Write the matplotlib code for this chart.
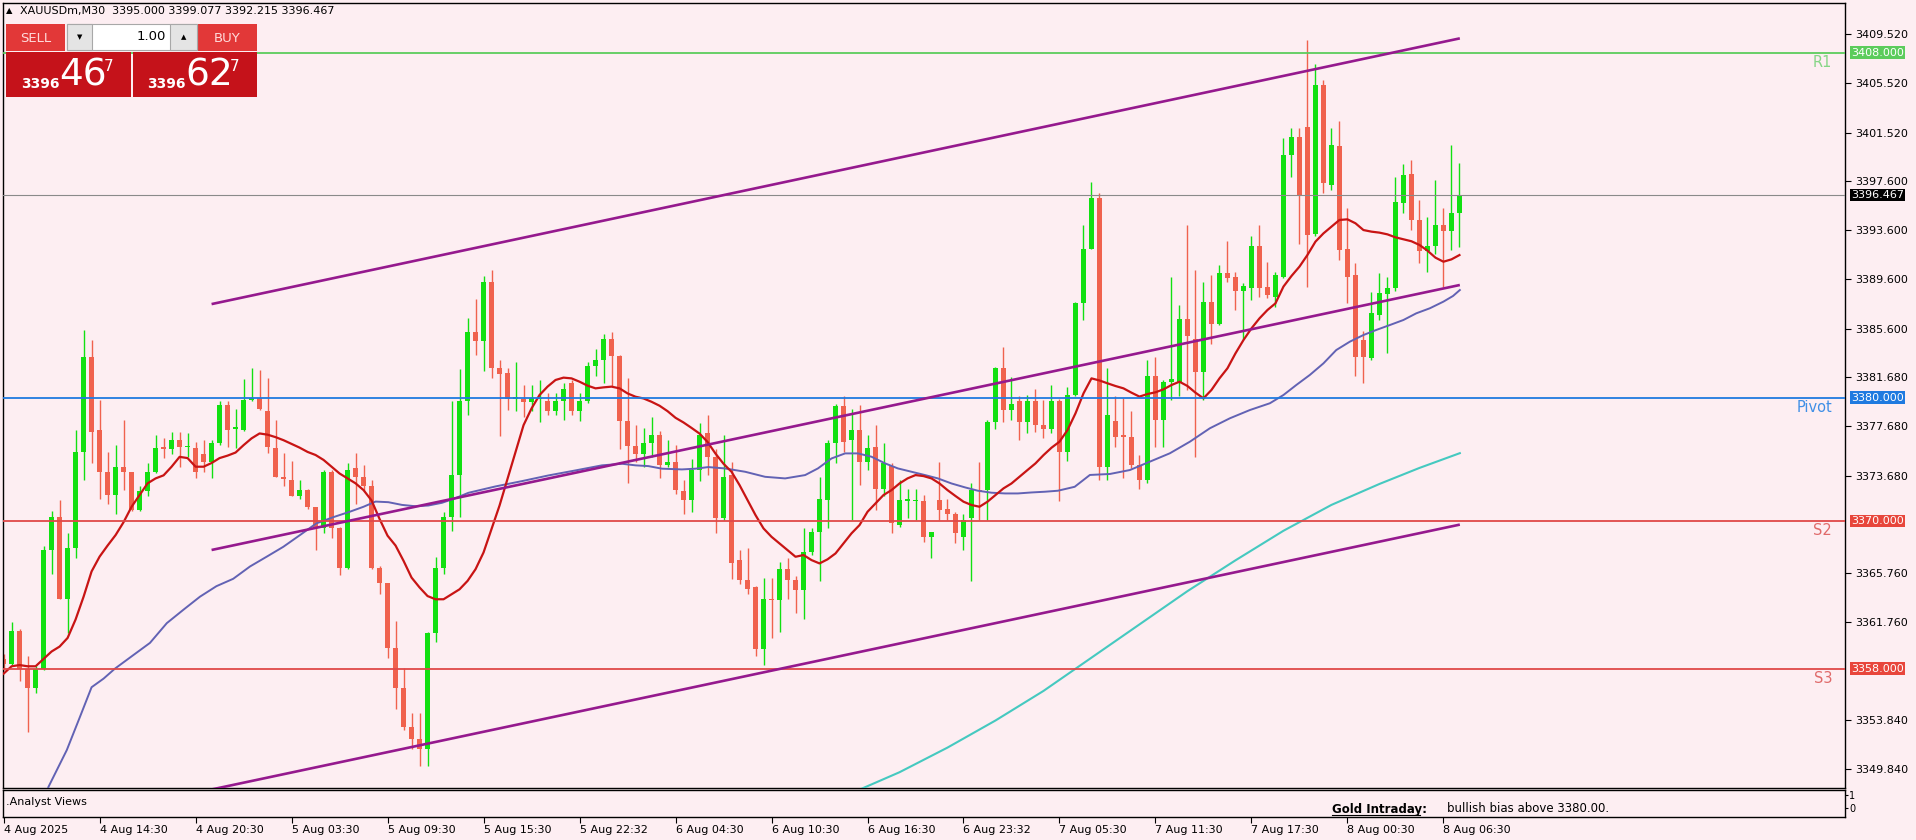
import matplotlib
matplotlib.use("Agg")
import matplotlib.pyplot as plt
from matplotlib.patches import Rectangle
from matplotlib.lines import Line2D
import numpy as np

# ---- data (one value per bar) ----
opens = [
    3358.8, 3358.4, 3361.1, 3358.0, 3356.4, 3358.0, 3367.6, 3370.3, 3363.7, 3367.8,
    3375.6, 3383.3, 3377.4, 3374.0, 3372.1, 3374.4, 3374.0, 3370.9, 3372.4, 3374.0,
    3376.0, 3375.8, 3376.6, 3376.0, 3375.9, 3375.4, 3374.8, 3376.35, 3379.4, 3377.5,
    3377.4, 3379.8, 3380.0, 3378.95, 3375.9, 3373.6, 3373.3, 3372.0, 3372.5, 3371.15,
    3369.4, 3374.0, 3369.4, 3366.2, 3374.3, 3373.6, 3372.8, 3366.2, 3365.0, 3359.7,
    3356.4, 3353.3, 3352.3, 3351.5, 3360.9, 3366.2, 3370.3, 3373.7, 3379.7, 3385.3,
    3384.6, 3389.4, 3382.4, 3382.0, 3379.9, 3379.9, 3379.65, 3379.9, 3379.7, 3378.9,
    3379.7, 3381.2, 3378.9, 3379.7, 3382.6, 3383.1, 3384.8, 3383.35, 3378.1, 3376.1,
    3375.4, 3376.3, 3377.0, 3374.55, 3374.8, 3372.4, 3371.7, 3374.1, 3377.1, 3375.2,
    3370.2, 3373.7, 3366.8, 3365.2, 3364.6, 3359.6, 3363.7, 3363.6, 3366.1, 3365.2,
    3364.4, 3367.5, 3369.1, 3371.7, 3376.3, 3379.3, 3376.6, 3377.4, 3374.8, 3376.0,
    3372.6, 3374.45, 3369.7, 3371.65, 3371.6, 3371.6, 3368.7, 3371.7, 3371.0, 3370.6,
    3368.7, 3370.2, 3372.5, 3372.5, 3378.05, 3382.4, 3379.0, 3379.7, 3378.05, 3379.75,
    3377.8, 3377.5, 3379.75, 3375.6, 3380.2, 3387.65, 3392.1, 3396.2, 3374.4, 3378.1,
    3377.0, 3376.8, 3374.5, 3373.3, 3381.8, 3378.2, 3381.3, 3381.3, 3386.4, 3384.8,
    3382.1, 3387.8, 3386.0, 3390.1, 3389.8, 3388.7, 3388.9, 3392.3, 3389.0, 3388.2,
    3389.8, 3399.7, 3401.2, 3402.0, 3393.3, 3405.4, 3397.3, 3400.4, 3392.05, 3389.95,
    3384.7, 3383.2, 3386.7, 3388.4, 3388.9, 3395.8, 3398.2, 3394.4, 3391.9, 3392.3,
    3394.0, 3393.5, 3395.0]
highs = [
    3359.2, 3361.8, 3361.2, 3359.0, 3358.2, 3368.0, 3370.8, 3371.7, 3369.0, 3377.4,
    3385.5, 3384.7, 3379.8, 3375.6, 3376.2, 3378.2, 3374.0, 3372.8, 3374.7, 3377.0,
    3376.7, 3377.2, 3377.2, 3377.1, 3376.4, 3376.6, 3376.6, 3379.7, 3379.7, 3379.1,
    3381.5, 3382.4, 3382.25, 3381.6, 3378.2, 3375.5, 3374.9, 3373.3, 3372.6, 3371.15,
    3374.1, 3374.1, 3369.5, 3374.7, 3375.5, 3374.5, 3373.3, 3366.3, 3365.0, 3361.9,
    3358.1, 3354.4, 3354.4, 3361.0, 3367.05, 3370.7, 3379.7, 3382.3, 3386.5, 3388.0,
    3389.9, 3390.35, 3383.1, 3382.45, 3382.9, 3381.0, 3381.0, 3381.4, 3380.4, 3380.4,
    3381.2, 3381.4, 3380.4, 3382.9, 3383.95, 3385.2, 3385.3, 3383.5, 3381.6, 3377.8,
    3377.55, 3378.4, 3377.3, 3376.6, 3376.2, 3373.3, 3375.0, 3377.95, 3378.6, 3375.8,
    3377.0, 3374.8, 3367.6, 3367.8, 3364.7, 3365.4, 3365.4, 3366.7, 3366.95, 3365.5,
    3369.4, 3369.4, 3373.6, 3376.6, 3379.5, 3380.1, 3379.1, 3379.4, 3377.0, 3377.8,
    3376.3, 3374.7, 3373.3, 3372.6, 3372.6, 3372.1, 3369.1, 3374.8, 3371.8, 3370.75,
    3370.6, 3373.05, 3374.8, 3378.2, 3382.5, 3384.1, 3381.7, 3380.1, 3380.2, 3380.7,
    3379.8, 3381.0, 3379.9, 3380.9, 3387.8, 3394.0, 3397.5, 3396.6, 3382.4, 3380.1,
    3379.95, 3378.9, 3375.35, 3383.1, 3383.3, 3381.4, 3389.8, 3387.5, 3394.0, 3390.4,
    3389.4, 3390.0, 3390.8, 3392.7, 3390.2, 3389.3, 3393.1, 3394.0, 3391.0, 3390.2,
    3401.05, 3401.9, 3401.9, 3409.0, 3407.1, 3405.8, 3401.9, 3402.5, 3395.4, 3390.9,
    3385.4, 3388.6, 3390.1, 3389.8, 3397.9, 3399.0, 3399.3, 3396.05, 3394.7, 3397.7,
    3395.4, 3400.5, 3399.08]
lows = [
    3357.9, 3358.3, 3357.0, 3352.9, 3356.0, 3357.9, 3365.7, 3363.7, 3360.9, 3367.0,
    3373.3, 3374.7, 3371.8, 3371.4, 3370.6, 3372.5, 3370.8, 3370.8, 3372.0, 3373.9,
    3375.1, 3375.4, 3374.4, 3375.2, 3373.5, 3374.0, 3373.5, 3376.2, 3376.0, 3375.9,
    3377.3, 3379.7, 3379.0, 3375.5, 3373.6, 3372.8, 3372.0, 3371.8, 3371.0, 3367.6,
    3369.0, 3368.6, 3365.6, 3366.1, 3371.4, 3372.4, 3366.1, 3364.1, 3358.9, 3354.7,
    3353.0, 3351.5, 3350.1, 3350.1, 3360.2, 3365.7, 3369.2, 3370.3, 3378.6, 3383.5,
    3382.2, 3381.6, 3376.9, 3379.0, 3378.9, 3378.4, 3378.9, 3378.0, 3378.6, 3378.6,
    3378.2, 3378.6, 3378.1, 3379.6, 3381.8, 3381.2, 3380.95, 3375.8, 3373.05, 3374.8,
    3374.4, 3375.2, 3373.5, 3374.4, 3372.2, 3370.6, 3370.7, 3373.2, 3373.7, 3369.0,
    3370.05, 3365.3, 3364.9, 3364.1, 3359.0, 3358.3, 3360.5, 3361.0, 3363.7, 3362.5,
    3362.0, 3367.2, 3365.1, 3369.4, 3374.7, 3375.6, 3370.1, 3372.9, 3374.1, 3370.9,
    3372.0, 3369.0, 3369.5, 3370.2, 3370.1, 3368.3, 3366.95, 3370.1, 3370.1, 3368.2,
    3367.6, 3365.1, 3370.1, 3370.1, 3377.5, 3378.05, 3378.2, 3376.6, 3377.1, 3377.2,
    3376.7, 3377.1, 3371.6, 3374.9, 3380.1, 3386.3, 3392.1, 3373.3, 3373.3, 3376.0,
    3373.5, 3374.3, 3372.6, 3373.05, 3376.0, 3376.0, 3379.8, 3380.1, 3380.6, 3375.2,
    3379.8, 3384.4, 3385.9, 3389.4, 3387.1, 3384.8, 3387.9, 3388.2, 3388.1, 3387.4,
    3389.7, 3397.9, 3392.5, 3389.0, 3393.1, 3396.6, 3396.9, 3391.2, 3387.7, 3381.8,
    3381.2, 3383.1, 3386.3, 3383.6, 3388.7, 3395.0, 3393.6, 3390.9, 3390.2, 3391.7,
    3389.0, 3392.0, 3392.22]
closes = [
    3358.4, 3361.1, 3358.0, 3356.4, 3358.0, 3367.6, 3370.3, 3363.7, 3367.8, 3375.6,
    3383.3, 3377.2, 3374.0, 3372.1, 3374.4, 3374.0, 3370.9, 3372.4, 3374.0, 3375.9,
    3375.8, 3376.6, 3376.0, 3376.1, 3374.0, 3374.8, 3376.35, 3379.4, 3377.4, 3377.6,
    3379.8, 3380.0, 3379.05, 3376.0, 3373.6, 3373.4, 3372.0, 3372.5, 3371.1, 3369.4,
    3374.0, 3369.4, 3366.2, 3374.1, 3373.6, 3372.8, 3366.2, 3365.0, 3359.7, 3356.4,
    3353.3, 3352.3, 3351.5, 3360.9, 3366.2, 3370.3, 3373.7, 3379.7, 3385.3, 3384.6,
    3389.4, 3382.4, 3381.9, 3379.9, 3380.05, 3379.65, 3380.0, 3380.0, 3378.9, 3379.7,
    3380.7, 3378.9, 3379.7, 3382.6, 3383.1, 3384.8, 3383.4, 3378.1, 3376.1, 3375.4,
    3376.3, 3377.0, 3374.55, 3374.8, 3372.5, 3371.7, 3374.1, 3377.0, 3375.2, 3370.2,
    3373.6, 3366.55, 3365.2, 3364.5, 3359.6, 3363.7, 3363.6, 3366.1, 3365.2, 3364.4,
    3367.5, 3369.1, 3371.8, 3376.3, 3379.3, 3376.4, 3377.4, 3374.8, 3375.9, 3372.6,
    3374.7, 3369.8, 3371.7, 3371.75, 3371.7, 3368.7, 3369.1, 3370.9, 3370.6, 3369.0,
    3370.1, 3372.5, 3372.4, 3378.05, 3382.4, 3379.0, 3379.5, 3378.05, 3379.75, 3377.8,
    3377.5, 3379.75, 3375.6, 3380.2, 3387.7, 3392.1, 3396.2, 3374.4, 3378.6, 3376.8,
    3376.8, 3374.5, 3373.3, 3381.8, 3378.2, 3381.3, 3381.5, 3386.4, 3385.0, 3382.1,
    3387.8, 3386.0, 3390.1, 3389.7, 3388.7, 3389.1, 3392.3, 3388.9, 3388.3, 3390.0,
    3399.7, 3401.2, 3396.45, 3393.2, 3405.4, 3397.4, 3400.5, 3392.0, 3389.8, 3383.3,
    3383.3, 3386.85, 3388.5, 3388.9, 3395.9, 3398.1, 3394.4, 3391.9, 3392.3, 3394.0,
    3393.5, 3395.0, 3396.467]

# fast moving average (red), one value per bar
ma_fast = [
    3357.6, 3358.2, 3358.3, 3358.2, 3358.2, 3358.8, 3359.4, 3359.8, 3360.5, 3362.0,
    3363.85, 3365.9, 3367.1, 3368.0, 3368.85, 3369.9, 3371.15, 3372.1, 3373.05, 3373.45,
    3373.7, 3374.4, 3375.2, 3375.1, 3374.4, 3374.4, 3374.7, 3375.1, 3375.3, 3375.55,
    3376.15, 3376.7, 3377.1, 3377.0, 3376.8, 3376.55, 3376.25, 3375.95, 3375.6, 3375.35,
    3374.95, 3374.4, 3373.85, 3373.45, 3373.05, 3372.5, 3371.66, 3370.16, 3368.8, 3368.0,
    3366.76, 3365.4, 3364.6, 3363.9, 3363.64, 3363.64, 3364.05, 3364.45, 3365.13, 3366.08,
    3367.44, 3369.35, 3371.25, 3373.42, 3375.6, 3377.77, 3379.13, 3380.22, 3380.9, 3381.44,
    3381.63, 3381.57, 3381.3, 3380.98, 3380.76, 3380.84, 3380.9, 3380.76, 3380.35, 3380.08,
    3379.94, 3379.67, 3379.35, 3378.91, 3378.37, 3377.99, 3377.55, 3377.09, 3376.41, 3375.46,
    3374.64, 3373.99, 3372.91, 3371.69, 3370.47, 3369.39, 3368.71, 3368.17, 3367.63, 3367.09,
    3367.23, 3366.82, 3366.55, 3366.88, 3367.36, 3368.17, 3368.99, 3369.66, 3370.74, 3371.42,
    3372.1, 3372.5, 3373.04, 3373.45, 3373.72, 3373.64, 3373.45, 3373.04, 3372.5, 3372.02,
    3371.56, 3371.29, 3371.15, 3371.56, 3372.1, 3372.64, 3373.04, 3373.59, 3374.13, 3374.67,
    3375.34, 3375.94, 3376.43, 3377.37, 3378.73, 3380.35, 3381.57, 3381.4, 3381.17, 3380.95,
    3380.76, 3380.41, 3380.09, 3380.3, 3380.44, 3380.68, 3381.03, 3381.3, 3380.95, 3380.41,
    3379.95, 3380.63, 3381.57, 3382.39, 3383.6, 3384.68, 3385.63, 3386.44, 3387.12, 3387.66,
    3389.02, 3389.88, 3390.64, 3391.59, 3392.67, 3393.34, 3393.88, 3394.43, 3394.48, 3394.16,
    3393.61, 3393.48, 3393.4, 3393.26, 3393.02, 3392.86, 3392.7, 3392.4, 3391.94, 3391.37,
    3391.04, 3391.23, 3391.58]

# slow moving average (slate blue), sampled along the bars
ma_slow_x = [4.6, 5.6, 7.9, 9.55, 11.0, 12.5, 13.9, 16.2, 18.3, 20.4, 22.5, 24.55, 26.6, 28.7, 30.8,
             32.9, 34.97, 37.05, 39.1, 41.2, 43.3, 45.0, 46.5, 48.1, 49.8, 51.5, 53.1, 54.8, 56.5,
             58.1, 61.5, 64.8, 68.1, 71.5, 74.8, 77.3, 79.0, 80.6, 82.3, 84.8, 86.5, 88.1, 90.18,
             92.7, 95.2, 97.7, 100.2, 101.8, 103.5, 105.2, 106.8, 108.5, 110.2, 111.8, 113.5,
             115.2, 116.8, 118.5, 120.2, 121.8, 123.5, 125.2, 126.8, 128.5, 130.2, 131.8, 133.9,
             135.8, 138.3, 140.8, 143.3, 145.8, 148.3, 150.8, 153.3, 155.8, 158.3, 160.0, 161.6,
             163.3, 165.0, 166.6, 168.3, 170.0, 171.6, 173.3, 175.0, 176.6, 178.3, 180.0, 181.2,
             182.05]
ma_slow_y = [3346.0, 3348.4, 3351.4, 3354.1, 3356.5, 3357.2, 3358.0, 3359.1, 3360.1, 3361.7, 3362.8,
             3363.85, 3364.7, 3365.3, 3366.3, 3367.1, 3367.9, 3368.85, 3369.8, 3370.3, 3370.75,
             3371.15, 3371.57, 3371.52, 3371.3, 3371.19, 3371.25, 3371.47, 3371.85, 3372.28,
             3372.8, 3373.23, 3373.69, 3374.1, 3374.51, 3374.64, 3374.51, 3374.45, 3374.24,
             3374.18, 3374.24, 3374.37, 3374.26, 3373.99, 3373.58, 3373.45, 3373.72, 3374.26,
             3375.07, 3375.48, 3375.48, 3375.21, 3374.67, 3374.26, 3373.99, 3373.72, 3373.45,
             3373.04, 3372.72, 3372.45, 3372.29, 3372.23, 3372.23, 3372.31, 3372.37, 3372.45,
             3372.77, 3373.73, 3373.81, 3374.13, 3374.81, 3375.49, 3376.43, 3377.52, 3378.33,
             3379.0, 3379.55, 3380.22, 3381.03, 3381.85, 3382.79, 3383.87, 3384.55, 3385.09,
             3385.5, 3385.9, 3386.31, 3386.85, 3387.26, 3387.8, 3388.26, 3388.74]

# long moving average (turquoise)
ma_long_x = [107.4, 112, 118, 124, 130, 136, 142, 148, 154, 160, 166, 172, 177, 182.05]
ma_long_y = [3348.3, 3349.6, 3351.6, 3353.8, 3356.2, 3358.9, 3361.6, 3364.3, 3366.8, 3369.2,
             3371.3, 3373.0, 3374.3, 3375.5]

# channel trend lines: (bar, price) end points
channel_upper = [(26.0, 3387.6), (182.05, 3409.17)]
channel_mid = [(26.0, 3367.64), (182.05, 3389.15)]
channel_lower = [(26.0, 3348.2), (182.05, 3369.7)]

levels = {"R1": 3408.0, "Pivot": 3380.0, "S2": 3370.0, "S3": 3358.0}
last_price = 3396.467

price_ticks = [3409.52, 3405.52, 3401.52, 3397.60, 3393.60, 3389.60, 3385.60, 3381.68,
               3377.68, 3373.68, 3365.76, 3361.76, 3353.84, 3349.84]
time_labels = ["4 Aug 2025", "4 Aug 14:30", "4 Aug 20:30", "5 Aug 03:30", "5 Aug 09:30",
               "5 Aug 15:30", "5 Aug 22:32", "6 Aug 04:30", "6 Aug 10:30", "6 Aug 16:30",
               "6 Aug 23:32", "7 Aug 05:30", "7 Aug 11:30", "7 Aug 17:30", "8 Aug 00:30",
               "8 Aug 06:30"]

# ---- figure layout in pixels ----
W, H = 1916, 840
BG = '#fdeef2'
BULL = '#12e012'
BEAR = '#f0624e'


def fx(px):
    return px / W


def fy(py):
    return 1 - py / H


fig = plt.figure(figsize=(W / 100, H / 100), dpi=100, facecolor=BG)

ax = fig.add_axes([fx(3), fy(788), (1845 - 3) / W, (788 - 3) / H])
ax.set_facecolor(BG)
ax.set_xlim(-0.075, 230.2)
ax.set_ylim(3348.32, 3412.04)
for s in ax.spines.values():
    s.set_color('black')
    s.set_linewidth(1)

x = np.arange(len(closes))
o = np.array(opens)
c = np.array(closes)
hi = np.array(highs)
lo = np.array(lows)
cols = [BULL if cc >= oo else BEAR for oo, cc in zip(o, c)]
ax.vlines(x, lo, hi, colors=cols, linewidth=1.0, zorder=2)
body = np.maximum(np.abs(c - o), 0.09)
ax.bar(x, body, bottom=np.minimum(o, c), width=0.62, color=cols, linewidth=0, zorder=2)

ax.plot(ma_long_x, ma_long_y, color='#45c9c0', lw=1.5, zorder=3)
ax.plot(ma_slow_x, ma_slow_y, color='#6262b4', lw=1.4, zorder=3)
ax.plot(x, ma_fast, color='#c81414', lw=1.6, zorder=3)

lvl_col = {"R1": '#5ccc5c', "Pivot": '#1f7ae0', "S2": '#e04848', "S3": '#e04848'}
lbl_col = {"R1": '#86d686', "Pivot": '#3f8fe6', "S2": '#e06a6a', "S3": '#e06a6a'}
for name, val in levels.items():
    ax.axhline(val, color=lvl_col[name], lw=1.3, zorder=4)
    ax.text(228.6, val - 0.15, name, color=lbl_col[name], fontsize=10.5,
            ha='right', va='top', zorder=5)
ax.axhline(last_price, color='#8a8a8a', lw=0.8, zorder=4)

for line in (channel_upper, channel_mid, channel_lower):
    ax.plot([p[0] for p in line], [p[1] for p in line], color='#95198e', lw=1.9,
            solid_capstyle='butt', zorder=4)

# right price scale
ax.set_xticks([])
ax.yaxis.tick_right()
ax.set_yticks(price_ticks)
ax.set_yticklabels([f"{v:.3f}" for v in price_ticks])
ax.tick_params(axis='y', length=4, width=0.8, pad=3, labelsize=8, colors='black')

tags = [(levels["R1"], '#5ccc5c'), (last_price, '#000000'), (levels["Pivot"], '#1f7ae0'),
        (levels["S2"], '#e8463c'), (levels["S3"], '#e8463c')]
for val, col in tags:
    ax.annotate(f"{val:.3f}", xy=(1.0, val), xycoords=('axes fraction', 'data'),
                xytext=(6, 0), textcoords='offset pixels', va='center', ha='left',
                fontsize=8, color='white', annotation_clip=False,
                bbox=dict(boxstyle='square,pad=0.12', fc=col, ec='none'))

# analyst views sub-window and time axis
ax2 = fig.add_axes([fx(3), fy(817), (1845 - 3) / W, (817 - 790) / H])
ax2.set_facecolor(BG)
ax2.set_xlim(-0.075, 230.2)
ax2.set_ylim(-0.69, 1.385)
for s in ax2.spines.values():
    s.set_color('black')
    s.set_linewidth(1)
ax2.set_xticks(np.arange(0, 12 * len(time_labels), 12))
ax2.set_xticklabels(time_labels, ha='left')
ax2.tick_params(axis='x', length=4, width=0.8, pad=2, labelsize=8)
ax2.yaxis.tick_right()
ax2.set_yticks([0, 1])
ax2.set_yticklabels(['0', '1'])
ax2.tick_params(axis='y', length=2, pad=1, labelsize=7)

fig.text(fx(6), fy(802), ".Analyst Views", fontsize=8, va='center', ha='left')
fig.text(fx(1332), fy(809), "Gold Intraday:", fontsize=8.5, fontweight='bold',
         va='center', ha='left')
fig.add_artist(Line2D([fx(1332), fx(1420)], [fy(815), fy(815)], color='black', lw=0.8))
fig.text(fx(1447), fy(809), "bullish bias above 3380.00.", fontsize=8.5, va='center', ha='left')

# header and one-click trading panel
fig.text(fx(6), fy(11), "\u25b2", fontsize=6, va='center', ha='left')
fig.text(fx(20), fy(11), "XAUUSDm,M30  3395.000 3399.077 3392.215 3396.467",
         fontsize=8, va='center', ha='left')


def box(x0, y0, x1, y1, fc, ec='none', lw=0.0):
    fig.add_artist(Rectangle((fx(x0), fy(y1)), (x1 - x0) / W, (y1 - y0) / H,
                             transform=fig.transFigure, fc=fc, ec=ec, lw=lw, zorder=10))


box(6, 24, 65, 51, '#e23838')
box(198, 24, 257, 51, '#e23838')
box(67, 24, 197, 50, '#ffffff', '#a8a8a8', 0.8)
box(67, 24, 92, 50, '#e4e4e4', '#a8a8a8', 0.8)
box(170, 24, 197, 50, '#e4e4e4', '#a8a8a8', 0.8)
box(6, 52, 131, 97, '#c5121a')
box(133, 52, 257, 97, '#c5121a')

txt = dict(zorder=11, va='center')
fig.text(fx(35.5), fy(38), "SELL", fontsize=9.5, color='#ffdada', ha='center', **txt)
fig.text(fx(227.5), fy(38), "BUY", fontsize=9.5, color='#ffdada', ha='center', **txt)
fig.text(fx(79.5), fy(37), "\u25bc", fontsize=5, ha='center', **txt)
fig.text(fx(183.5), fy(37), "\u25b2", fontsize=5, ha='center', **txt)
fig.text(fx(166), fy(37), "1.00", fontsize=9.5, ha='right', **txt)

big = dict(zorder=11, va='baseline', ha='left', color='white')
for x0, main in ((21, "46"), (147, "62")):
    fig.text(fx(x0), fy(88), "3396", fontsize=10, fontweight='bold', **big)
    fig.text(fx(x0 + 38), fy(86), main, fontsize=27, **big)
    fig.text(fx(x0 + 83), fy(71), "7", fontsize=11, **big)

fig.savefig("out.png", dpi=100, facecolor=BG)
